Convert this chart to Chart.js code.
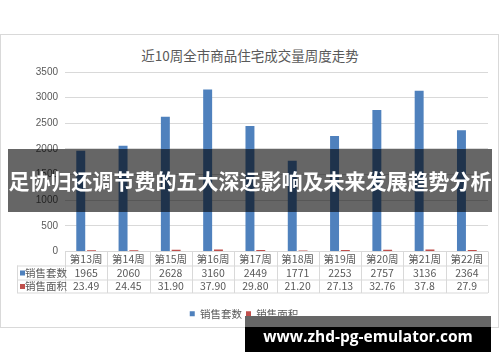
<!DOCTYPE html>
<html><head><meta charset="utf-8">
<script src="https://cdn.jsdelivr.net/npm/chart.js@4"></script>
<style>
html,body{margin:0;padding:0;background:#fff;}
#wrap{position:relative;width:500px;height:362px;overflow:hidden;font-family:"Noto Sans CJK SC","Noto Sans",sans-serif;}
#frame{position:absolute;left:0;top:34px;width:497px;height:292px;border:1px solid #d9d9d9;box-sizing:content-box;}
#title{position:absolute;left:0;top:45px;width:500px;text-align:center;font-size:13.5px;color:#595959;line-height:20px;}
canvas{position:absolute;left:0;top:0;}
#banner{position:absolute;left:8px;top:149px;width:484px;height:63px;background:rgba(0,0,0,0.6);color:#fff;font-weight:bold;font-size:21px;line-height:63px;text-align:center;white-space:nowrap;}
#wm1{position:absolute;left:245px;top:316px;width:246px;height:11px;background:#666;}
#wm2{position:absolute;left:245px;top:327px;width:246px;height:25px;background:#000;}
#wmt{position:absolute;left:245px;top:318px;width:246px;height:36px;line-height:36px;text-align:center;color:#fff;font-weight:bold;font-size:15.5px;font-family:"Open Sans","DejaVu Sans",sans-serif;white-space:nowrap;}
</style></head>
<body>
<div id="wrap">
<div id="frame"></div>
<div id="title">近10周全市商品住宅成交量周度走势</div>
<canvas id="c" width="500" height="362"></canvas>
<div id="banner">足协归还调节费的五大深远影响及未来发展趋势分析</div>
<div id="wm1"></div><div id="wm2"></div>
<div id="wmt">www.zhd-pg-emulator.com</div>
</div>
<script>
const categories = ["第13周","第14周","第15周","第16周","第17周","第18周","第19周","第20周","第21周","第22周"];
const seriesNames = ["销售套数","销售面积"];
const salesUnits = [1965,2060,2628,3160,2449,1771,2253,2757,3136,2364];
const salesArea = [23.49,24.45,31.90,37.90,29.80,21.20,27.13,32.76,37.8,27.9];
const unitsText = ["1965","2060","2628","3160","2449","1771","2253","2757","3136","2364"];
const areaText = ["23.49","24.45","31.90","37.90","29.80","21.20","27.13","32.76","37.8","27.9"];
const yTicks = [0,500,1000,1500,2000,2500,3000,3500];
const colors = ["#4f81bd","#c0504d"];

const tablePlugin = {
  id:'dataTable',
  afterDraw(chart){
    const ctx = chart.ctx, xs = chart.scales.x, a = chart.chartArea;
    const n = categories.length;
    const cw = (a.right - a.left)/n;
    const top = a.bottom;
    const r1 = top+14, r2 = r1+14, r3 = r2+13;
    const left = 17;
    ctx.save();
    ctx.strokeStyle = '#d9d9d9'; ctx.lineWidth = 1;
    ctx.beginPath();
    [r1,r2,r3].forEach(y=>{ctx.moveTo(left, y+0.5); ctx.lineTo(a.right, y+0.5);});
    for(let i=0;i<=n;i++){const x=Math.round(a.left+i*cw)+0.5; ctx.moveTo(x, top); ctx.lineTo(x, r3+0.5);}
    ctx.moveTo(left+0.5, r1); ctx.lineTo(left+0.5, r3+0.5);
    ctx.stroke();
    ctx.fillStyle = '#595959';
    ctx.font = '10.5px "Noto Sans CJK SC", sans-serif';
    ctx.textAlign='center'; ctx.textBaseline='middle';
    const rows = [unitsText, areaText];
    categories.forEach((c,i)=>{
      const x = xs.getPixelForValue(i);
      ctx.fillText(c, x, (top+r1)/2+0.5);
      ctx.fillText(rows[0][i], x, (r1+r2)/2+0.5);
      ctx.fillText(rows[1][i], x, (r2+r3)/2+0.5);
    });
    ctx.textAlign='left';
    [[r1,r2],[r2,r3]].forEach((rr,k)=>{
      const yc=(rr[0]+rr[1])/2+0.5;
      ctx.fillStyle = colors[k];
      ctx.fillRect(20, yc-2.5, 5, 5);
      ctx.fillStyle = '#595959';
      ctx.fillText(seriesNames[k], 25, yc);
    });
    ctx.restore();
  }
};

new Chart(document.getElementById('c'), {
  type:'bar',
  data:{
    labels: categories,
    datasets:[
      {label:seriesNames[0], data:salesUnits, backgroundColor:colors[0], categoryPercentage:0.51, barPercentage:0.83},
      {label:seriesNames[1], data:salesArea, backgroundColor:colors[1], categoryPercentage:0.51, barPercentage:0.83}
    ]
  },
  options:{
    responsive:false, animation:false, devicePixelRatio:1,
    layout:{padding:{top:72,left:0,right:12,bottom:33}},
    plugins:{
      title:{display:false},
      tooltip:{enabled:false},
      legend:{position:'bottom', labels:{boxWidth:5, boxHeight:5, color:'#595959', font:{size:10.5, family:'"Noto Sans CJK SC", sans-serif'}, padding:4}}
    },
    scales:{
      x:{ticks:{display:false}, grid:{display:false}, border:{display:false},
         afterFit(s){ s.height = 53; }},
      y:{min:0, max:3500, afterBuildTicks(s){ s.ticks = yTicks.map(v=>({value:v})); },
         ticks:{color:'#595959', font:{size:10, family:'"Liberation Sans", Arial, sans-serif'}, padding:7, callback:v=>String(v)},
         grid:{color:'#d9d9d9', drawTicks:false}, border:{display:false},
         afterFit(s){ s.width = 65; }}
    }
  },
  plugins:[tablePlugin]
});
</script>
</body></html>
